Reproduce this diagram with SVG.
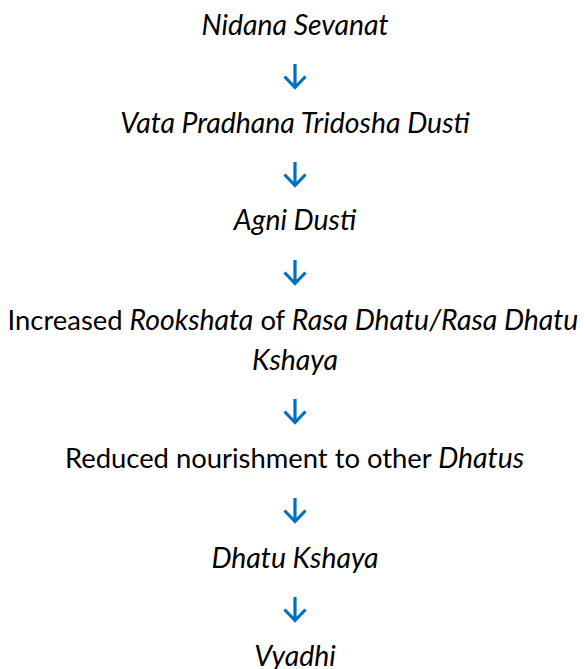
<svg xmlns="http://www.w3.org/2000/svg" width="584" height="669" viewBox="0 0 584 669">
<style>
  text { font-family: "Lato", "Open Sans", "Liberation Sans", sans-serif; font-size: 27.4px; fill: #000; text-anchor: middle; }
  .i { font-style: italic; font-size: 28.4px; }
  .arrow { fill: none; stroke: #0070C0; stroke-width: 3.2; stroke-linecap: butt; stroke-linejoin: miter; }
</style>
<defs>
  <g id="dn">
    <path class="arrow" d="M0,-20 V3.5 M-10.5,-7.5 L0,3.5 L10.5,-7.5"/>
  </g>
</defs>
<rect width="584" height="669" fill="#fff"/>
<g id="connectors">
  <use href="#dn" x="295" y="84"/>
  <use href="#dn" x="295" y="182"/>
  <use href="#dn" x="295" y="280"/>
  <use href="#dn" x="295" y="419"/>
  <use href="#dn" x="295" y="518"/>
  <use href="#dn" x="295" y="617"/>
</g>
<g id="n1"><text x="295" y="35" class="i">Nidana Sevanat</text></g>
<g id="n2"><text x="295" y="133" class="i">Vata Pradhana Tridosha Dusti</text></g>
<g id="n3"><text x="295" y="230" class="i">Agni Dusti</text></g>
<g id="n4"><text x="293" y="330">Increased <tspan class="i">Rookshata</tspan> of <tspan class="i">Rasa Dhatu/Rasa Dhatu</tspan></text><text x="295" y="370" class="i">Kshaya</text></g>
<g id="n5"><text x="294.5" y="468">Reduced nourishment to other <tspan class="i">Dhatus</tspan></text></g>
<g id="n6"><text x="295" y="568" class="i">Dhatu Kshaya</text></g>
<g id="n7"><text x="295" y="666" class="i">Vyadhi</text></g>
</svg>
